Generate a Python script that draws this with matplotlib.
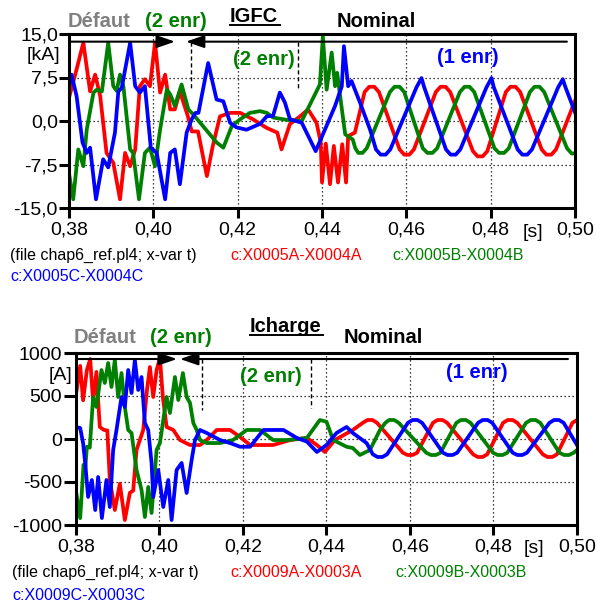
import matplotlib
matplotlib.use("Agg")
import matplotlib.pyplot as plt
from matplotlib.lines import Line2D

plt.rcParams['font.family'] = ['Liberation Sans', 'DejaVu Sans']

# ---------------- data ----------------
x_ticks = [0.38, 0.40, 0.42, 0.44, 0.46, 0.48, 0.50]
x_tick_labels = ["0,38", "0,40", "0,42", "0,44", "0,46", "0,48", "0,50"]
igfc_ticks = [-15.0, -7.5, 0.0, 7.5, 15.0]
igfc_tick_labels = ["-15,0", "-7,5", "0,0", "7,5", "15,0"]
icharge_ticks = [-1000, -500, 0, 500, 1000]
icharge_tick_labels = ["-1000", "-500", "0", "500", "1000"]

# IGFC [kA] phase currents (t [s], value)
igfc_a = [(0.3800, 4.0), (0.3818, 8.9), (0.3834, 13.5), (0.3850, 5.1), (0.3862, 8.0), (0.3874, 4.3),
          (0.3889, -5.5), (0.3905, -7.2), (0.3921, -13.5), (0.3933, -5.5), (0.3945, -7.8), (0.3957, -4.9),
          (0.3968, 6.0), (0.3980, 7.2), (0.3992, 6.0), (0.4004, 13.5), (0.4016, 4.9), (0.4028, 8.0),
          (0.4040, 2.0), (0.4051, 2.0), (0.4063, 5.1), (0.4082, 0.8), (0.4091, -1.8), (0.4106, -1.8),
          (0.4127, -9.5), (0.4141, -4.3), (0.4158, 0.8), (0.4182, 1.4), (0.4206, 1.4), (0.4236, 0.3),
          (0.4269, -1.2), (0.4294, -2.0), (0.4304, -4.9), (0.4324, -0.5), (0.4348, 0.8), (0.4367, 2.0),
          (0.4387, -0.3), (0.4397, -3.7), (0.4400, -10.6), (0.4409, -3.9), (0.4419, -10.9), (0.4428, -4.3),
          (0.4438, -10.6), (0.4448, -4.0), (0.4457, -10.6), (0.4462, -2.6), (0.4478, -2.0),
          (0.4501, 5.0), (0.4512, 5.9), (0.4524, 5.9), (0.4535, 5.0),
          (0.4584, -4.9), (0.4595, -5.8), (0.4607, -5.8), (0.4618, -4.9),
          (0.4670, 5.0), (0.4681, 5.9), (0.4693, 5.9), (0.4704, 5.0),
          (0.4758, -5.2), (0.4769, -6.1), (0.4781, -6.1), (0.4792, -5.2),
          (0.4836, 5.0), (0.4847, 5.9), (0.4859, 5.9), (0.4870, 5.0),
          (0.4921, -4.9), (0.4932, -5.8), (0.4944, -5.8), (0.4955, -4.9), (0.5000, 3.5)]

igfc_b = [(0.3800, -9.0), (0.3810, -13.5), (0.3822, -4.9), (0.3834, -7.8), (0.3842, -1.5), (0.3858, 4.9),
          (0.3866, 5.4), (0.3878, 5.1), (0.3893, 13.5), (0.3905, 6.0), (0.3913, 5.2), (0.3921, 8.0),
          (0.3929, 6.0), (0.3945, -4.9), (0.3952, -5.5), (0.3966, -13.5), (0.3980, -5.5), (0.3992, -4.6),
          (0.4004, -7.8), (0.4016, -1.5), (0.4032, 5.4), (0.4040, 4.6), (0.4051, 2.6), (0.4067, 6.3),
          (0.4083, 2.0), (0.4095, 1.1), (0.4118, -0.9), (0.4150, -3.7), (0.4166, -4.6), (0.4186, -0.9),
          (0.4206, 0.3), (0.4229, 1.4), (0.4253, 1.7), (0.4269, 1.4), (0.4284, 0.6), (0.4316, 0.2),
          (0.4352, 0.0), (0.4395, 6.3), (0.4402, 14.6), (0.4411, 5.4), (0.4423, 11.8), (0.4431, 6.0),
          (0.4436, 8.3), (0.4443, 4.3), (0.4455, -2.3), (0.4473, -3.2),
          (0.4479, -4.7), (0.4486, -5.5), (0.4496, -5.5), (0.4506, -4.7),
          (0.4561, 5.0), (0.4572, 5.9), (0.4584, 5.9), (0.4595, 5.0),
          (0.4639, -4.7), (0.4650, -5.5), (0.4662, -5.5), (0.4673, -4.7),
          (0.4727, 5.0), (0.4738, 5.9), (0.4750, 5.9), (0.4761, 5.0),
          (0.4809, -4.7), (0.4820, -5.5), (0.4832, -5.5), (0.4843, -4.7),
          (0.4893, 5.0), (0.4904, 5.9), (0.4916, 5.9), (0.4927, 5.0),
          (0.4981, -4.7), (0.4992, -5.6), (0.5000, -5.6)]

igfc_c = [(0.3800, 6.0), (0.3806, 8.0), (0.3818, 4.3), (0.3832, -3.7), (0.3842, -5.5), (0.3850, -4.6),
          (0.3864, -13.5), (0.3881, -6.6), (0.3893, -8.0), (0.3909, -2.0), (0.3917, 5.1), (0.3925, 5.7),
          (0.3945, 13.5), (0.3957, 6.0), (0.3968, 4.9), (0.3980, 6.0), (0.3994, -4.6), (0.4008, -5.5),
          (0.4028, -13.5), (0.4040, -5.5), (0.4051, -4.9), (0.4063, -10.9), (0.4079, -2.0), (0.4091, 0.3),
          (0.4100, 1.4), (0.4107, 1.4), (0.4130, 10.0), (0.4150, 3.7), (0.4166, 3.4), (0.4182, -0.3),
          (0.4197, -1.1), (0.4221, -1.5), (0.4253, -0.5), (0.4269, 0.8), (0.4284, 0.9), (0.4300, 4.9),
          (0.4312, 3.2), (0.4324, 0.3), (0.4352, -0.3), (0.4385, -5.2), (0.4431, 2.6), (0.4447, 6.0),
          (0.4452, 12.9), (0.4462, 6.0), (0.4470, 6.9), (0.4490, 3.2), (0.4514, -1.5),
          (0.4528, -4.9), (0.4539, -5.8), (0.4551, -5.8), (0.4562, -4.9),
          (0.4624, 5.8), (0.4636, 7.4), (0.4642, 5.9),
          (0.4694, -4.9), (0.4705, -5.8), (0.4717, -5.8), (0.4728, -4.9),
          (0.4790, 5.8), (0.4802, 7.4), (0.4807, 5.9),
          (0.4864, -4.9), (0.4875, -5.8), (0.4887, -5.8), (0.4898, -4.9),
          (0.4960, 5.8), (0.4971, 7.2), (0.4977, 5.9), (0.5000, 1.5)]

# Icharge [A] phase currents (t [s], value)
icharge_a = [(0.3800, 520), (0.3810, 850), (0.3817, 450), (0.3826, 800), (0.3834, 930), (0.3841, 430),
             (0.3849, 780), (0.3857, 140), (0.3867, 105), (0.3875, 100), (0.3881, -477), (0.3893, -826),
             (0.3905, -520), (0.3917, -942), (0.3929, -626), (0.3937, -600), (0.3945, -128), (0.3953, -12),
             (0.3961, 105), (0.3970, 570), (0.3977, 837), (0.3985, 488), (0.3993, 800), (0.4001, 942),
             (0.4008, 488), (0.4017, 140), (0.4033, 105), (0.4049, -12), (0.4073, -70), (0.4097, -70),
             (0.4113, -12), (0.4137, 105), (0.4169, 105), (0.4193, 23), (0.4217, -70), (0.4241, -70),
             (0.4272, -70), (0.4313, -12), (0.4353, 12), (0.4377, -70), (0.4396, -151), (0.4420, -12),
             (0.4463, 105),
             (0.4487, 188), (0.4498, 221), (0.4510, 221), (0.4521, 188),
             (0.4583, -160), (0.4594, -186), (0.4606, -186), (0.4617, -160),
             (0.4655, 188), (0.4666, 221), (0.4678, 221), (0.4689, 188),
             (0.4751, -178), (0.4762, -209), (0.4774, -209), (0.4785, -178),
             (0.4823, 188), (0.4834, 221), (0.4846, 221), (0.4857, 188),
             (0.4918, -178), (0.4929, -209), (0.4941, -209), (0.4952, -178),
             (0.4989, 188), (0.5000, 221)]

icharge_b = [(0.3800, -600), (0.3802, -674), (0.3810, -920), (0.3818, -300), (0.3822, -360), (0.3826, -90),
             (0.3833, -100), (0.3841, 488), (0.3849, 372), (0.3861, 802), (0.3869, 651), (0.3877, 884),
             (0.3885, 605), (0.3893, 919), (0.3901, 488), (0.3909, 767), (0.3917, 372), (0.3925, 105),
             (0.3933, 70), (0.3945, -360), (0.3957, -593), (0.3965, -907), (0.3973, -558), (0.3981, -860),
             (0.3993, -128), (0.4001, -47), (0.4008, 186), (0.4017, 488), (0.4025, 302), (0.4037, 721),
             (0.4045, 453), (0.4056, 767), (0.4065, 488), (0.4073, 420), (0.4081, 186), (0.4089, 105),
             (0.4097, -12), (0.4113, -47), (0.4145, -47), (0.4176, -12), (0.4209, 105), (0.4241, 105),
             (0.4272, -12), (0.4305, -12), (0.4353, 12), (0.4384, 221), (0.4400, 201), (0.4416, -12),
             (0.4448, -90), (0.4463, -105), (0.4480, -186), (0.4504, -128), (0.4528, 105),
             (0.4541, 188), (0.4550, 221), (0.4562, 221), (0.4573, 188),
             (0.4639, -160), (0.4650, -186), (0.4662, -186), (0.4673, -160),
             (0.4711, 188), (0.4722, 221), (0.4734, 221), (0.4745, 188),
             (0.4799, -160), (0.4810, -186), (0.4822, -186), (0.4833, -160),
             (0.4878, 188), (0.4889, 221), (0.4901, 221), (0.4912, 188),
             (0.4958, -160), (0.4969, -186), (0.4981, -186), (0.4992, -160), (0.5000, -128)]

icharge_c = [(0.3800, 140), (0.3810, 128), (0.3817, -47), (0.3822, -279), (0.3829, -674), (0.3838, -477),
             (0.3846, -826), (0.3853, -442), (0.3862, -919), (0.3873, -477), (0.3881, -791), (0.3889, -128),
             (0.3897, 105), (0.3909, 488), (0.3917, 372), (0.3925, 802), (0.3933, 535), (0.3941, 919),
             (0.3949, 570), (0.3957, 721), (0.3965, 186), (0.3973, 105), (0.3981, -279), (0.3985, -674),
             (0.3997, -360), (0.4009, -791), (0.4021, -477), (0.4029, -942), (0.4041, -360), (0.4053, -279),
             (0.4065, -628), (0.4077, -244), (0.4085, -12), (0.4097, 105), (0.4113, 70), (0.4145, -12),
             (0.4169, -47), (0.4193, -90), (0.4217, -90), (0.4249, 105), (0.4297, 105), (0.4329, 12),
             (0.4353, -30), (0.4377, -151), (0.4400, -70), (0.4424, 70), (0.4448, 140), (0.4463, 70),
             (0.4496, -47),
             (0.4511, -178), (0.4522, -209), (0.4534, -209), (0.4545, -178),
             (0.4595, 188), (0.4606, 221), (0.4618, 221), (0.4629, 188),
             (0.4679, -160), (0.4690, -186), (0.4702, -186), (0.4713, -160),
             (0.4763, 188), (0.4774, 221), (0.4786, 221), (0.4797, 188),
             (0.4846, -160), (0.4857, -186), (0.4869, -186), (0.4880, -160),
             (0.4934, 188), (0.4945, 221), (0.4957, 221), (0.4968, 188), (0.5000, -70)]

RED, GREEN, BLUE, GREY = '#ff0000', '#008000', '#0000ff', '#808080'

# ---------------- figure ----------------
W, H = 596, 602
fig = plt.figure(figsize=(W / 100, H / 100), dpi=100)
fig.patch.set_facecolor('white')


def fx(px):
    return px / W


def fy(py):
    return 1 - py / H


ax1 = fig.add_axes([fx(69), fy(208), fx(575) - fx(69), fy(34) - fy(208)])
ax2 = fig.add_axes([fx(76), fy(525), fx(577) - fx(76), fy(353) - fy(525)])


def setup(ax, yticks, ylabels, ylim, ylen):
    ax.set_xlim(0.38, 0.50)
    ax.set_ylim(*ylim)
    ax.set_xticks(x_ticks)
    ax.set_xticklabels(x_tick_labels, fontsize=14)
    ax.set_yticks(yticks)
    ax.set_yticklabels(ylabels, fontsize=14)
    for s in ax.spines.values():
        s.set_linewidth(2.2)
    ax.tick_params(axis='x', direction='out', length=7, width=2.2, pad=2.5)
    ax.tick_params(axis='y', direction='out', length=ylen, width=2.2, pad=1)
    ax.grid(True, linestyle=(0, (1, 2.2)), color='black', linewidth=0.9)


def draw(ax, series, color):
    t = [p[0] for p in series]
    v = [p[1] for p in series]
    ax.plot(t, v, color=color, lw=2.7, solid_joinstyle='round')


setup(ax1, igfc_ticks, igfc_tick_labels, (-15, 15), 7)
setup(ax2, icharge_ticks, icharge_tick_labels, (-1000, 1000), 9)

for s, c in ((igfc_a, RED), (igfc_b, GREEN), (igfc_c, BLUE)):
    draw(ax1, s, c)
for s, c in ((icharge_a, RED), (icharge_b, GREEN), (icharge_c, BLUE)):
    draw(ax2, s, c)


def arrows(ax, yarr, tip1, tip2, xend):
    st = dict(arrowstyle='-|>,head_length=1.1,head_width=0.38', color='black', lw=1.5,
              mutation_scale=10, shrinkA=0, shrinkB=0)
    ax.annotate('', xy=(tip1, yarr), xytext=(0.0, yarr), xycoords='axes fraction',
                textcoords='axes fraction', arrowprops=st)
    ax.annotate('', xy=(tip2, yarr), xytext=(xend, yarr), xycoords='axes fraction',
                textcoords='axes fraction', arrowprops=st)


arrows(ax1, 0.956, 0.2095, 0.231, 0.984)
arrows(ax2, 0.965, 0.2016, 0.2076, 0.982)

dash = dict(color='black', lw=1.0, linestyle=(0, (3, 2)))
ax1.plot([0.241, 0.241], [0.956, 0.678], transform=ax1.transAxes, **dash)
ax1.plot([0.4526, 0.4526], [0.956, 0.678], transform=ax1.transAxes, **dash)
ax2.plot([0.2515, 0.2515], [0.965, 0.669], transform=ax2.transAxes, **dash)
ax2.plot([0.469, 0.469], [0.965, 0.680], transform=ax2.transAxes, **dash)

# ---------------- texts ----------------
tb = dict(fontsize=14.5, fontweight='bold', va='baseline', ha='left')
# top panel
fig.text(fx(68), fy(27), 'Défaut', color=GREY, **tb)
fig.text(fx(145), fy(27), '(2 enr)', color=GREEN, **tb)
fig.text(fx(230), fy(22.5), 'IGFC', color='black', **tb)
fig.add_artist(Line2D([fx(230), fx(280)], [fy(25), fy(25)], color='black', lw=1.4))
fig.text(fx(337), fy(27), 'Nominal', color='black', **tb)
fig.text(fx(233), fy(65), '(2 enr)', color=GREEN, **tb)
fig.text(fx(437), fy(63), '(1 enr)', color=BLUE, **tb)
fig.text(fx(60), fy(55), '[kA]', fontsize=14, ha='right', va='center')
fig.text(fx(533), fy(236.7), '[s]', fontsize=14, ha='center', va='baseline')

# bottom panel
fig.text(fx(74), fy(343), 'Défaut', color=GREY, **tb)
fig.text(fx(150.5), fy(343), '(2 enr)', color=GREEN, **tb)
fig.text(fx(250), fy(332), 'Icharge', color='black', **tb)
fig.add_artist(Line2D([fx(250), fx(323)], [fy(335), fy(335)], color='black', lw=1.4))
fig.text(fx(344), fy(343), 'Nominal', color='black', **tb)
fig.text(fx(240), fy(381.5), '(2 enr)', color=GREEN, **tb)
fig.text(fx(446), fy(378), '(1 enr)', color=BLUE, **tb)
fig.text(fx(72), fy(376), '[A]', fontsize=14, ha='right', va='center')
fig.text(fx(534), fy(553), '[s]', fontsize=14, ha='center', va='baseline')

# legends
tl = dict(fontsize=11.5, va='baseline', ha='left')
fig.text(fx(10), fy(260), '(file chap6_ref.pl4; x-var t)', color='black', **tl)
fig.text(fx(230), fy(260), 'c:X0005A-X0004A', color=RED, **tl)
fig.text(fx(392), fy(260), 'c:X0005B-X0004B', color=GREEN, **tl)
fig.text(fx(10), fy(281), 'c:X0005C-X0004C', color=BLUE, **tl)

fig.text(fx(12), fy(577), '(file chap6_ref.pl4; x-var t)', color='black', **tl)
fig.text(fx(230), fy(577), 'c:X0009A-X0003A', color=RED, **tl)
fig.text(fx(395), fy(577), 'c:X0009B-X0003B', color=GREEN, **tl)
fig.text(fx(12), fy(600), 'c:X0009C-X0003C', color=BLUE, **tl)

fig.savefig('out.png', dpi=100, facecolor='white')
